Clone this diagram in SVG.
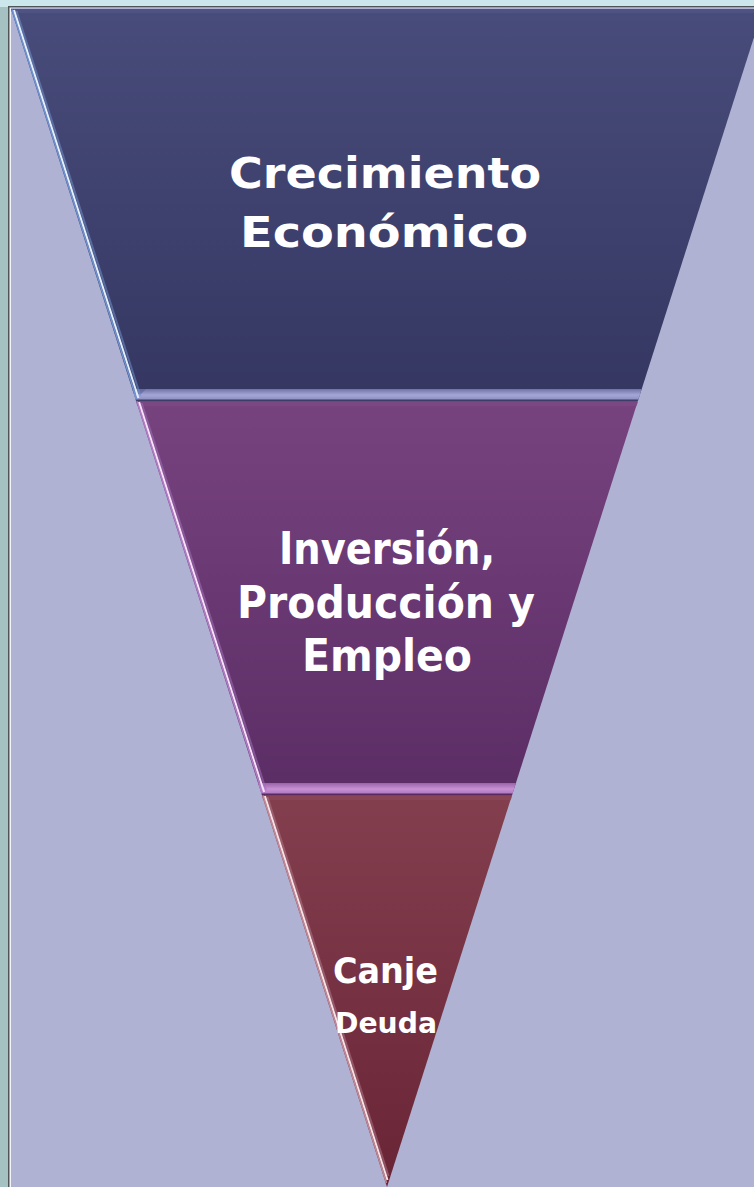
<svg xmlns="http://www.w3.org/2000/svg" width="754" height="1187" viewBox="0 0 754 1187">
<defs>
<linearGradient id="g1" x1="0" y1="0" x2="0" y2="1">
<stop offset="0" stop-color="#484C7A"/><stop offset="1" stop-color="#353762"/>
</linearGradient>
<linearGradient id="g2" x1="0" y1="0" x2="0" y2="1">
<stop offset="0" stop-color="#77437F"/><stop offset="1" stop-color="#5B2D65"/>
</linearGradient>
<linearGradient id="g3" x1="0" y1="0" x2="0" y2="1">
<stop offset="0" stop-color="#833F4E"/><stop offset="1" stop-color="#692536"/>
</linearGradient>
<linearGradient id="b1" x1="0" y1="0" x2="0" y2="1">
<stop offset="0" stop-color="#6E72A6"/><stop offset="0.5" stop-color="#A4A7D6"/><stop offset="1" stop-color="#8487BA"/>
</linearGradient>
<linearGradient id="b2" x1="0" y1="0" x2="0" y2="1">
<stop offset="0" stop-color="#9A62A8"/><stop offset="0.5" stop-color="#C891D4"/><stop offset="1" stop-color="#A873B8"/>
</linearGradient>
<style>
.t{font-family:"DejaVu Sans","Liberation Sans",sans-serif;font-weight:bold;fill:#FFFFFF;}
.e1a{stroke:#6E92D2;stroke-width:1.5;fill:none;}
.e1b{stroke:#E2F0FF;stroke-width:2;fill:none;}
.e1c{stroke:#7090CC;stroke-width:2;fill:none;opacity:0.55;}
.e2a{stroke:#B07CC8;stroke-width:1.5;fill:none;}
.e2b{stroke:#F6E0FA;stroke-width:2;fill:none;}
.e2c{stroke:#A070B8;stroke-width:2;fill:none;opacity:0.55;}
.e3a{stroke:#C08898;stroke-width:1.5;fill:none;}
.e3b{stroke:#F6E2E6;stroke-width:2;fill:none;}
.e3c{stroke:#B07888;stroke-width:2;fill:none;opacity:0.55;}
</style>
</defs>
<!-- frame -->
<rect x="0" y="0" width="754" height="1187" fill="#A6C1C2"/>
<rect x="0" y="0" width="754" height="7" fill="#CCE7EB"/>
<rect x="8" y="6" width="746" height="1181" fill="#4F5557"/>
<rect x="9.5" y="7.5" width="744.5" height="1179.5" fill="#F2F4F8"/>
<rect x="11" y="8" width="743" height="1179" fill="#AFB2D2"/>

<!-- section 1 -->
<g id="crecimiento">
<polygon points="11,9 763,9 637.9,401 136.1,401" fill="url(#g1)"/>
<polygon points="11,9 763,9 761.7,13 12.3,13" fill="#4F5384"/>
<polygon points="132.3,389 641.7,389 637.9,401 136.1,401" fill="url(#b1)"/>
<polygon points="132.3,389 146,389 141,394 134,394" fill="#5E629A" opacity="0.6"/>
<line x1="136.1" y1="400.3" x2="637.9" y2="400.3" stroke="#3D3E68" stroke-width="1.5"/>
<line x1="16.5" y1="11" x2="140.5" y2="396" class="e1c"/>
<line x1="12" y1="9.5" x2="136.6" y2="399" class="e1a"/>
<line x1="14" y1="10" x2="138.4" y2="398" class="e1b"/>
<text class="t" x="385" y="188" font-size="42" text-anchor="middle" textLength="312" lengthAdjust="spacingAndGlyphs">Crecimiento</text>
<text class="t" x="384" y="247" font-size="42" text-anchor="middle" textLength="288" lengthAdjust="spacingAndGlyphs">Económico</text>
</g>

<!-- section 2 -->
<g id="inversion">
<polygon points="136.1,401 637.9,401 512.1,795 261.9,795" fill="url(#g2)"/>
<polygon points="136.1,402 637.9,402 636.6,406 137.4,406" fill="#7C4A86" opacity="0.7"/>
<polygon points="258.1,783 515.9,783 512.1,795 261.9,795" fill="url(#b2)"/>
<line x1="261.9" y1="794.3" x2="512.1" y2="794.3" stroke="#5A2A62" stroke-width="1.5"/>
<line x1="141.6" y1="403" x2="266" y2="790" class="e2c"/>
<line x1="137.1" y1="401.5" x2="262.4" y2="793" class="e2a"/>
<line x1="139.1" y1="402" x2="264.1" y2="792" class="e2b"/>
<text class="t" x="387" y="564" font-size="44" text-anchor="middle" textLength="216" lengthAdjust="spacingAndGlyphs">Inversión,</text>
<text class="t" x="386" y="618" font-size="44" text-anchor="middle" textLength="298" lengthAdjust="spacingAndGlyphs">Producción y</text>
<text class="t" x="387" y="671" font-size="44" text-anchor="middle" textLength="170" lengthAdjust="spacingAndGlyphs">Empleo</text>
</g>

<!-- section 3 -->
<g id="canje">
<polygon points="261.9,795 512.1,795 387,1187" fill="url(#g3)"/>
<polygon points="261.9,796 512.1,796 510.8,800 263.2,800" fill="#8A4857" opacity="0.7"/>
<line x1="267.4" y1="797" x2="388.5" y2="1176" class="e3c"/>
<line x1="262.9" y1="795.5" x2="386.5" y2="1183" class="e3a"/>
<line x1="264.9" y1="796" x2="387.5" y2="1180" class="e3b"/>
<text class="t" x="385.5" y="983" font-size="36" text-anchor="middle" textLength="105" lengthAdjust="spacingAndGlyphs">Canje</text>
<text class="t" x="386" y="1033" font-size="29" text-anchor="middle" textLength="102" lengthAdjust="spacingAndGlyphs">Deuda</text>
</g>
</svg>
